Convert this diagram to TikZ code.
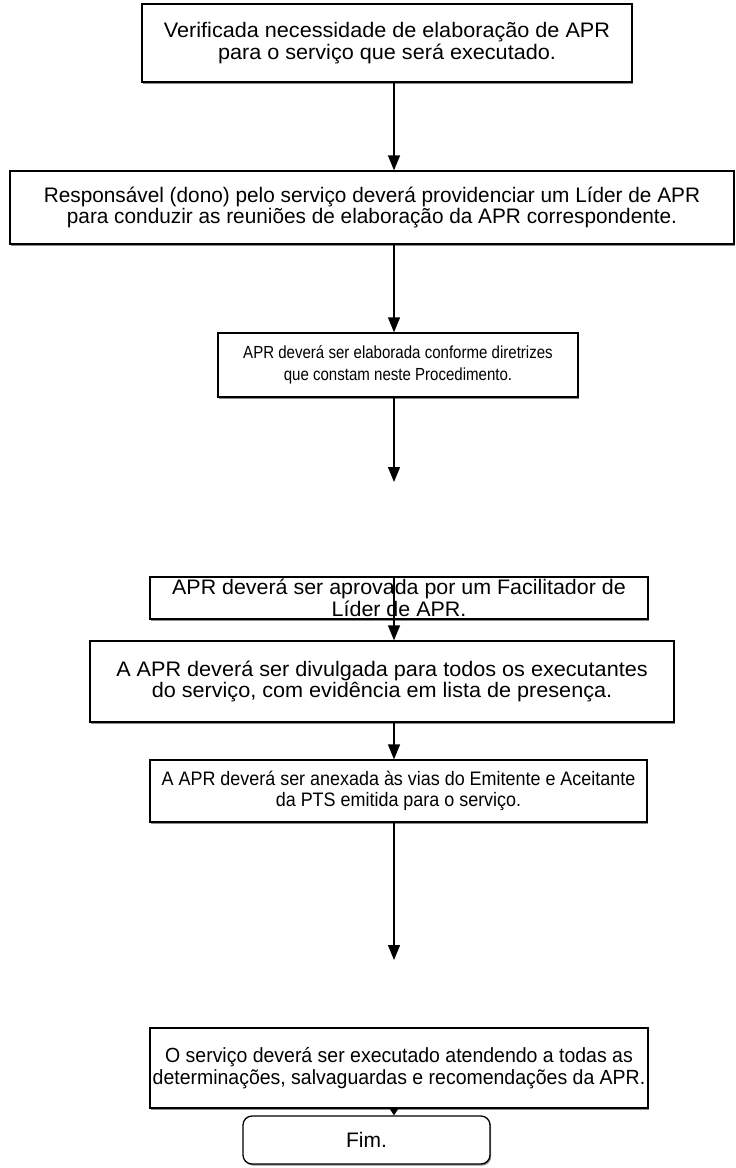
\documentclass[tikz,border=0pt]{standalone}
\usepackage{fontspec}
\setmainfont{Liberation Sans}
\usetikzlibrary{positioning,arrows.meta,shadows}
\tikzset{
  txt/.style 2 args={font=\fontsize{#1}{21.5}\selectfont\addfontfeatures{FakeStretch=#2}},
  blk/.style={draw, fill=white, line width=1.3pt, align=center,
              txt={21}{1}, inner sep=2pt,
              drop shadow={shadow xshift=1.2pt, shadow yshift=-1.6pt,
                           fill=black!45, opacity=1}},
  flow/.style={-{Triangle[length=15pt, width=12pt]}, line width=1.3pt},
  tip/.style={-{Triangle[length=7pt, width=9pt]}, line width=1.3pt},
}
\begin{document}
\begin{tikzpicture}[x=1pt, y=-1pt]
        \useasboundingbox (0,0) rectangle (736,1168);
        \node[blk, txt={21}{1.03}, minimum width=490pt, minimum height=78pt] (verif) at (387,43)
          {Verificada necessidade de elaboração de APR\\para o serviço que será executado.};
        \node[blk, txt={21}{0.99}, minimum width=724pt, minimum height=73pt] (lider) at (372,207.5)
          {Responsável (dono) pelo serviço deverá providenciar um Líder de APR\\para conduzir as reuniões de elaboração da APR correspondente.};
        \node[blk, txt={17.5}{0.86}, minimum width=360pt, minimum height=64pt] (elab) at (398,365)
          {APR deverá ser elaborada conforme diretrizes\\que constam neste Procedimento.};
        \node[blk, txt={21}{1.02}, minimum width=498pt, minimum height=42pt] (aprov) at (399,598)
          {APR deverá ser aprovada por um Facilitador de\\Líder de APR.};
        \node[blk, txt={21}{1.03}, minimum width=584pt, minimum height=81pt] (divulg) at (382,681.5)
          {A APR deverá ser divulgada para todos os executantes\\do serviço, com evidência em lista de presença.};
        \node[blk, txt={19.5}{0.92}, minimum width=497pt, minimum height=62pt] (anexa) at (398.5,791)
          {A APR deverá ser anexada às vias do Emitente e Aceitante\\da PTS emitida para o serviço.};
        \node[blk, txt={20.5}{0.95}, minimum width=498pt, minimum height=80pt] (exec) at (399,1068)
          {O serviço deverá ser executado atendendo a todas as\\determinações, salvaguardas e recomendações da APR.};
        \node[blk, rounded corners=9pt, minimum width=247pt, minimum height=48pt] (fim) at (366.5,1140) {Fim.};
        % eixo das setas
        \coordinate (ax) at (394,0);
        \coordinate (e3) at (394,482);
        \coordinate (e6) at (394,960);
        \draw[flow] (verif.south -| ax) -- (lider.north -| ax);
        \draw[flow] (lider.south -| ax) -- (elab.north -| ax);
        \draw[flow] (elab.south -| ax) -- (e3);
        \draw[flow] (aprov.north -| ax) -- (divulg.north -| ax);
        \draw[flow] (divulg.south -| ax) -- (anexa.north -| ax);
        \draw[flow] (anexa.south -| ax) -- (e6);
        \draw[tip] (exec.south -| ax) -- (fim.north -| ax);
      \end{tikzpicture}
\end{document}
